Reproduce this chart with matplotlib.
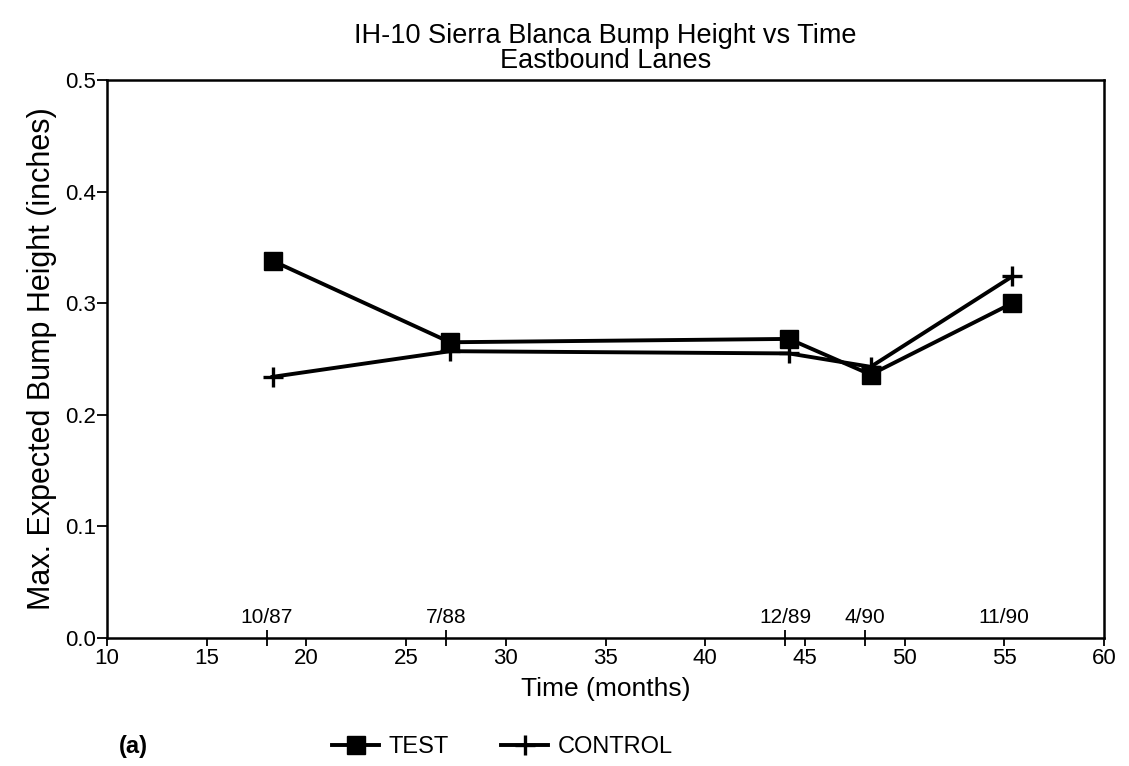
import matplotlib
matplotlib.use("Agg")
import matplotlib.pyplot as plt

plt.rcParams['font.family'] = ['Liberation Sans', 'DejaVu Sans']

# Data
time_test = [18.3, 27.2, 44.2, 48.3, 55.4]
test_vals = [0.338, 0.265, 0.268, 0.236, 0.300]
time_control = [18.3, 27.2, 44.2, 48.3, 55.4]
control_vals = [0.234, 0.257, 0.255, 0.243, 0.324]
date_pos = [18, 27, 44, 48, 55]
date_labels = ['10/87', '7/88', '12/89', '4/90', '11/90']
xticks = [10, 15, 20, 25, 30, 35, 40, 45, 50, 55, 60]
yticks = [0.0, 0.1, 0.2, 0.3, 0.4, 0.5]

fig = plt.figure(figsize=(11.29, 7.66), dpi=100)
# axes: left 107px, right 1104px, top 80px, bottom 638px
ax = fig.add_axes([107/1129, 1-638/766, (1104-107)/1129, (638-80)/766])

l1, = ax.plot(time_test, test_vals, color='black', lw=2.8, marker='s', ms=13,
              label='TEST')
l2, = ax.plot(time_control, control_vals, color='black', lw=2.8, marker='+', ms=15,
              mew=2.4, label='CONTROL')

ax.set_xlim(10, 60)
ax.set_ylim(0, 0.5)
ax.set_xticks(xticks)
ax.set_yticks(yticks)
ax.set_yticklabels([f'{v:.1f}' for v in yticks])
ax.set_xticks(date_pos, minor=True)
ax.tick_params(axis='x', which='major', direction='out', length=6, width=1.3,
               labelsize=16, pad=1)
ax.tick_params(axis='x', which='minor', direction='inout', length=12, width=1.3)
ax.tick_params(axis='y', direction='out', length=7, width=1.3, labelsize=16, pad=1)
for s in ax.spines.values():
    s.set_linewidth(1.8)

for p, lab in zip(date_pos, date_labels):
    ax.text(p, 0.01, lab, ha='center', va='bottom', fontsize=15)

ax.set_xlabel('Time (months)', fontsize=19, labelpad=6)
ax.set_ylabel('Max. Expected Bump Height (inches)', fontsize=22, labelpad=6)
ax.set_title('IH-10 Sierra Blanca Bump Height vs Time\nEastbound Lanes',
             fontsize=19.5, linespacing=0.92, pad=9)

fig.legend(handles=[l1, l2], loc='center', bbox_to_anchor=(0.445, 0.025), ncol=2,
           frameon=False, fontsize=17, handlelength=2.0, columnspacing=2.2,
           handletextpad=0.4)
fig.text(0.105, 0.025, '(a)', fontsize=17, fontweight='bold', va='center')

fig.savefig('out.png', dpi=100)
